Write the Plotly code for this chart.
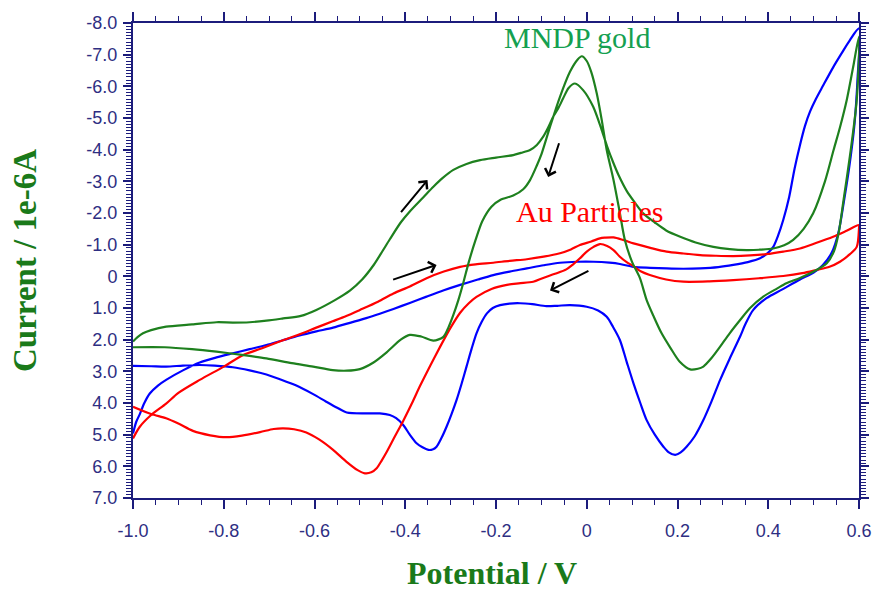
import plotly.graph_objects as go

# ---------------- data (potential in V, current in 1e-6 A) ----------------
green_v = [-1.0, -0.93, -0.87, -0.816, -0.76, -0.706, -0.65, -0.603, -0.56, -0.529, -0.50, -0.47,
           -0.441, -0.41, -0.39, -0.365, -0.338, -0.316, -0.305, -0.294, -0.283, -0.272, -0.26, -0.245,
           -0.23, -0.21, -0.19, -0.162, -0.14, -0.125, -0.11, -0.10, -0.081, -0.059, -0.037, -0.02,
           -0.011, 0.0, 0.01, 0.022, 0.033, 0.044, 0.059, 0.073, 0.084, 0.10, 0.117, 0.132, 0.147,
           0.165, 0.184, 0.205, 0.228, 0.245, 0.257, 0.275, 0.294, 0.315, 0.338, 0.36, 0.389, 0.42,
           0.44, 0.47, 0.50, 0.529, 0.545, 0.555, 0.566, 0.58, 0.595, 0.6,
           0.587, 0.573, 0.558, 0.544, 0.525, 0.499, 0.478, 0.455, 0.435, 0.411, 0.38, 0.352, 0.315,
           0.279, 0.24, 0.206, 0.175, 0.15, 0.125, 0.105, 0.088, 0.07, 0.059, 0.045, 0.033, 0.014,
           -0.008, -0.026, -0.04, -0.052, -0.063, -0.074, -0.085, -0.096, -0.11, -0.125, -0.145,
           -0.162, -0.2, -0.235, -0.265, -0.294, -0.318, -0.338, -0.36, -0.39, -0.41, -0.434, -0.45,
           -0.47, -0.495, -0.522, -0.555, -0.596, -0.63, -0.669, -0.706, -0.743, -0.78, -0.816, -0.87,
           -0.927, -0.96, -0.978, -0.99, -1.0]
green_i = [2.24, 2.24, 2.30, 2.38, 2.48, 2.59, 2.74, 2.85, 2.96, 2.98, 2.93, 2.72,
           2.40, 2.00, 1.85, 1.90, 2.03, 1.91, 1.62, 1.22, 0.75, 0.20, -0.45, -1.15,
           -1.75, -2.20, -2.42, -2.55, -2.75, -3.04, -3.50, -3.85, -4.72, -5.67, -6.46, -6.85,
           -6.95, -6.80, -6.45, -5.78, -4.94, -3.99, -3.04, -2.0, -1.15, -0.45, 0.05, 0.75, 1.25,
           1.80, 2.25, 2.70, 2.94, 2.92, 2.85, 2.58, 2.22, 1.80, 1.38, 1.0, 0.64, 0.38,
           0.22, 0.05, -0.15, -0.41, -0.8, -1.36, -2.41, -3.8, -5.57, -7.57,
           -6.6, -5.57, -4.7, -3.99, -3.0, -1.99, -1.5, -1.15, -0.98, -0.88, -0.84, -0.83, -0.86,
           -0.93, -1.07, -1.25, -1.45, -1.7, -1.98, -2.35, -2.7, -3.2, -3.57, -4.1, -4.62, -5.36,
           -5.88, -6.09, -5.95, -5.62, -5.3, -5.04, -4.7, -4.41, -4.15, -3.99, -3.9,
           -3.83, -3.75, -3.67, -3.55, -3.36, -3.1, -2.83, -2.5, -2.05, -1.7, -1.17, -0.8,
           -0.35, 0.1, 0.45, 0.75, 1.06, 1.25, 1.33, 1.40, 1.45, 1.46, 1.45, 1.52,
           1.59, 1.70, 1.80, 1.92, 2.06]

red_v = [-1.0, -0.96, -0.927, -0.9, -0.868, -0.83, -0.794, -0.76, -0.72, -0.69, -0.669, -0.645,
         -0.618, -0.59, -0.559, -0.53, -0.505, -0.489, -0.475, -0.463, -0.452, -0.441, -0.423,
         -0.404, -0.385, -0.367, -0.345, -0.323, -0.30, -0.279, -0.26, -0.243, -0.21, -0.176,
         -0.15, -0.118, -0.096, -0.07, -0.045, -0.03, -0.015, 0.0, 0.015, 0.029, 0.045, 0.059,
         0.073, 0.088, 0.103, 0.12, 0.139, 0.175, 0.213, 0.27, 0.323, 0.38, 0.433, 0.475, 0.506,
         0.535, 0.558, 0.58, 0.595, 0.6,
         0.6, 0.57, 0.543, 0.505, 0.47, 0.433, 0.396, 0.36, 0.323, 0.285, 0.25, 0.213, 0.176,
         0.14, 0.103, 0.08, 0.059, 0.04, 0.029, 0.01, -0.015, -0.035, -0.059, -0.095, -0.132,
         -0.17, -0.206, -0.245, -0.279, -0.315, -0.353, -0.39, -0.426, -0.46, -0.5, -0.53,
         -0.56, -0.596, -0.637, -0.677, -0.717, -0.758, -0.8, -0.853, -0.9, -0.927, -0.96,
         -0.985, -1.0]
red_i = [4.12, 4.35, 4.48, 4.65, 4.88, 5.02, 5.08, 5.03, 4.92, 4.82, 4.80, 4.83,
         4.93, 5.15, 5.48, 5.85, 6.12, 6.22, 6.19, 6.06, 5.82, 5.55, 5.06,
         4.55, 4.0, 3.45, 2.82, 2.22, 1.62, 1.15, 0.85, 0.65, 0.40, 0.27,
         0.22, 0.17, 0.05, -0.08, -0.22, -0.38, -0.57, -0.78, -0.93, -1.02, -0.96, -0.83,
         -0.62, -0.45, -0.32, -0.15, -0.04, 0.10, 0.17, 0.16, 0.12, 0.06, -0.01, -0.1, -0.20,
         -0.3, -0.46, -0.7, -0.93, -1.52,
         -1.62, -1.42, -1.25, -1.05, -0.88, -0.78, -0.70, -0.66, -0.64, -0.65, -0.67, -0.72, -0.78,
         -0.9, -1.04, -1.15, -1.23, -1.22, -1.20, -1.10, -0.99, -0.85, -0.73, -0.62, -0.54,
         -0.49, -0.43, -0.38, -0.30, -0.15, 0.06, 0.32, 0.54, 0.80, 1.06, 1.25,
         1.42, 1.62, 1.85, 2.06, 2.28, 2.49, 2.85, 3.27, 3.68, 4.02, 4.38,
         4.75, 5.12]

blue_v = [-1.0, -0.993, -0.985, -0.975, -0.963, -0.945, -0.927, -0.89, -0.853, -0.816, -0.78,
          -0.743, -0.706, -0.67, -0.633, -0.596, -0.559, -0.52, -0.486, -0.456, -0.426, -0.39,
          -0.353, -0.315, -0.279, -0.24, -0.206, -0.17, -0.132, -0.095, -0.059, -0.02, 0.015,
          0.05, 0.073, 0.103, 0.14, 0.176, 0.213, 0.25, 0.29, 0.323, 0.355, 0.382, 0.40, 0.411,
          0.422, 0.433, 0.446, 0.458, 0.47, 0.481, 0.492, 0.505, 0.52, 0.543, 0.562, 0.58, 0.6,
          0.597, 0.59, 0.578, 0.566, 0.555, 0.54, 0.52, 0.5, 0.47, 0.43, 0.396, 0.367, 0.35, 0.338,
          0.315, 0.294, 0.275, 0.257, 0.238, 0.22, 0.207, 0.195, 0.18, 0.169, 0.15, 0.132, 0.118,
          0.103, 0.088, 0.073, 0.058, 0.044, 0.025, 0.0, -0.037, -0.065, -0.089, -0.12, -0.147,
          -0.17, -0.191, -0.207, -0.22, -0.232, -0.243, -0.254, -0.265, -0.276, -0.287, -0.298,
          -0.309, -0.32, -0.331, -0.34, -0.349, -0.362, -0.375, -0.39, -0.404, -0.42, -0.434,
          -0.456, -0.486, -0.529, -0.55, -0.575, -0.603, -0.64, -0.676, -0.706, -0.743, -0.78,
          -0.82, -0.853, -0.89, -0.927, -0.96, -1.0]
blue_i = [4.96, 4.6, 4.35, 4.0, 3.70, 3.45, 3.27, 2.97, 2.72, 2.56, 2.43,
          2.30, 2.17, 2.02, 1.87, 1.74, 1.62, 1.46, 1.32, 1.18, 1.03, 0.84,
          0.64, 0.44, 0.27, 0.10, -0.04, -0.15, -0.25, -0.35, -0.43, -0.46, -0.46,
          -0.43, -0.39, -0.30, -0.27, -0.25, -0.24, -0.25, -0.29, -0.36, -0.45, -0.57, -0.75, -0.93,
          -1.3, -1.78, -2.5, -3.4, -4.15, -4.75, -5.2, -5.6, -6.0, -6.6, -7.05, -7.46, -7.83,
          -6.3, -4.8, -3.4, -2.3, -1.4, -0.75, -0.35, -0.12, 0.1, 0.42, 0.69, 1.06, 1.5, 1.9,
          2.6, 3.27, 3.95, 4.54, 5.05, 5.38, 5.56, 5.64, 5.55, 5.38, 5.0, 4.54, 4.0,
          3.38, 2.7, 2.01, 1.6, 1.28, 1.08, 0.96, 0.91, 0.93, 0.94, 0.88, 0.85,
          0.86, 0.91, 1.0, 1.17, 1.45, 1.80, 2.3, 2.85, 3.4, 3.91, 4.35,
          4.75, 5.1, 5.38, 5.47, 5.48, 5.4, 5.27, 5.0, 4.70, 4.48, 4.38,
          4.33, 4.33, 4.30, 4.15, 3.95, 3.72, 3.45, 3.25, 3.10, 2.97, 2.87,
          2.82, 2.80, 2.82, 2.85, 2.84, 2.83]

x_ticks = [-1.0, -0.8, -0.6, -0.4, -0.2, 0.0, 0.2, 0.4, 0.6]
x_ticktext = ["-1.0", "-0.8", "-0.6", "-0.4", "-0.2", "0", "0.2", "0.4", "0.6"]
y_ticks = [-8, -7, -6, -5, -4, -3, -2, -1, 0, 1, 2, 3, 4, 5, 6, 7]
y_ticktext = ["-8.0", "-7.0", "-6.0", "-5.0", "-4.0", "-3.0", "-2.0", "-1.0", "0",
              "1.0", "2.0", "3.0", "4.0", "5.0", "6.0", "7.0"]

# (head_v, head_i, tail_v, tail_i)
arrows = [(-0.351, -3.04, -0.412, -1.98),
          (-0.331, -0.36, -0.430, 0.12),
          (-0.085, -3.14, -0.060, -4.25),
          (-0.081, 0.45, 0.007, -0.20)]

# ---------------- figure ----------------
AXIS = "#1c1c7c"
TICKFONT = dict(family="Liberation Sans, Arial, sans-serif", size=18, color="#2e2e82")
SERIF = "Liberation Serif, Times New Roman, serif"

fig = go.Figure()
for v, i, c in [(blue_v, blue_i, "#0000ff"), (red_v, red_i, "#ff0000"), (green_v, green_i, "#1e801e")]:
    fig.add_trace(go.Scatter(x=v, y=i, mode="lines",
                             line=dict(color=c, width=2.2, shape="spline", smoothing=0.8),
                             showlegend=False, hoverinfo="skip"))

annotations = [
    dict(x=-0.021, y=-7.55, xref="x", yref="y", text="MNDP gold", showarrow=False,
         font=dict(family=SERIF, size=30, color="#14a050")),
    dict(x=0.0066, y=-2.06, xref="x", yref="y", text="Au Particles", showarrow=False,
         font=dict(family=SERIF, size=30, color="#ff0000")),
    # x-axis title, anchored to the bottom edge of the figure
    dict(x=0.494, y=-0.2, xref="paper", yref="paper", text="<b>Potential / V</b>",
         showarrow=False, xanchor="center", yanchor="bottom",
         font=dict(family=SERIF, size=32, color="#1a7a1a")),
]
for hv, hi, tv, ti in arrows:
    annotations.append(dict(x=hv, y=hi, ax=tv, ay=ti, xref="x", yref="y", axref="x", ayref="y",
                            text="", showarrow=True, arrowhead=4, arrowsize=1.1,
                            arrowwidth=2, arrowcolor="#000000", standoff=0, startstandoff=0))

fig.update_layout(
    width=874, height=593,
    margin=dict(l=133, r=15, t=23, b=95),
    paper_bgcolor="white", plot_bgcolor="white",
    annotations=annotations,
    xaxis=dict(range=[-1.0, 0.6], tickvals=x_ticks, ticktext=x_ticktext, automargin=False,
               showgrid=False, zeroline=False, showline=True, linecolor=AXIS, linewidth=2,
               mirror="ticks", ticks="outside", ticklen=9, tickwidth=1.5, tickcolor=AXIS,
               minor=dict(dtick=0.05, ticks="outside", ticklen=5, tickwidth=1.3, tickcolor=AXIS, showgrid=False),
               tickfont=TICKFONT, ticklabelstandoff=6),
    yaxis=dict(range=[7.0, -8.0], tickvals=y_ticks, ticktext=y_ticktext, automargin=False,
               showgrid=False, zeroline=False, showline=True, linecolor=AXIS, linewidth=2,
               mirror="ticks", ticks="outside", ticklen=8, tickwidth=1.5, tickcolor=AXIS,
               minor=dict(dtick=0.1, ticks="outside", ticklen=5, tickwidth=1, tickcolor=AXIS, showgrid=False),
               tickfont=TICKFONT, ticklabelstandoff=2,
               title=dict(text="<b>Current / 1e-6A</b>", font=dict(family=SERIF, size=33, color="#1a7a1a"),
                          standoff=40)),
)

fig.write_html("out.html", config={"displayModeBar": False},
               post_script="document.body.style.margin='0';document.body.style.overflow='hidden';")
